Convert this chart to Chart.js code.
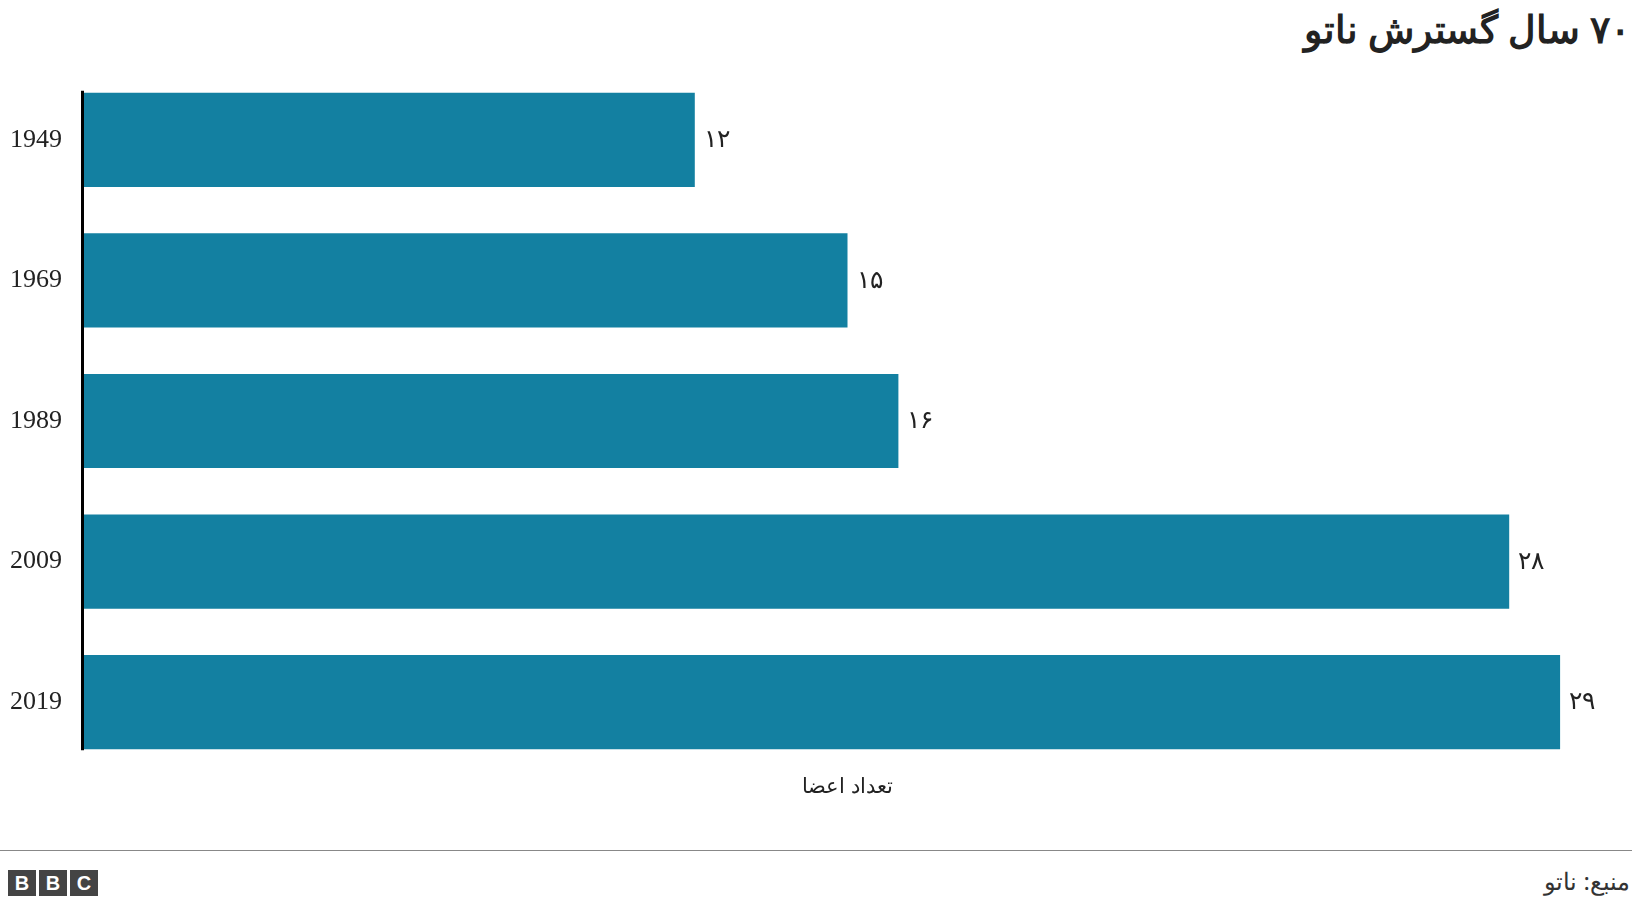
<!DOCTYPE html>
<html><head><meta charset="utf-8">
<script src="https://cdn.jsdelivr.net/npm/chart.js@4/dist/chart.umd.min.js"></script>
<style>
body{margin:0;width:1632px;height:908px;background:#fff;position:relative;overflow:hidden;font-family:"Noto Sans",sans-serif}
#title{position:absolute;right:2px;top:2px;font-size:38px;font-weight:bold;color:#222;direction:rtl}
#wrap{position:absolute;left:0;top:32px;width:1632px;height:778px}
#line{position:absolute;left:0;right:0;top:850px;border-top:1px solid #888}
#src{position:absolute;right:2px;top:864px;font-size:24px;color:#333;direction:rtl}
#bbc{position:absolute;left:8px;top:870px;display:flex;gap:3px}
#bbc span{background:#444;color:#fff;font:bold 20px "Liberation Sans";width:28px;height:26px;display:flex;align-items:center;justify-content:center}
</style></head><body>
<div id="title">۷۰ سال گسترش ناتو</div>
<div id="wrap"><canvas id="c"></canvas></div>
<div id="line"></div>
<div id="bbc"><span>B</span><span>B</span><span>C</span></div>
<div id="src">منبع: ناتو</div>
<script>
const categories=["1949","1969","1989","2009","2019"];
const members=[12,15,16,28,29];
const axisTitle="تعداد اعضا";
const fa=n=>String(n).replace(/\d/g,d=>"۰۱۲۳۴۵۶۷۸۹"[d]);
const labelPlugin={id:"lbl",afterDatasetsDraw(ch){const ctx=ch.ctx;const m=ch.getDatasetMeta(0);ctx.save();ctx.font="25px 'Noto Sans'";ctx.fillStyle="#222";ctx.textBaseline="middle";ctx.textAlign="left";
m.data.forEach((b,i)=>ctx.fillText(fa(members[i]),b.x+9,b.y));
const f=m.data[0],l=m.data[m.data.length-1];const x=ch.scales.x.getPixelForValue(0)-1.5;
ctx.strokeStyle="#000";ctx.lineWidth=3;ctx.beginPath();ctx.moveTo(x,f.y-f.height/2-2);ctx.lineTo(x,l.y+l.height/2+1);ctx.stroke();ctx.restore();}};
new Chart(document.getElementById("c"),{type:"bar",data:{labels:categories,datasets:[{data:members,backgroundColor:"#1380a1",barPercentage:0.67,categoryPercentage:1}]},
options:{indexAxis:"y",responsive:true,maintainAspectRatio:false,animation:false,
layout:{padding:{top:0,right:21,left:0,bottom:0}},
plugins:{legend:{display:false},tooltip:{enabled:false}},
scales:{x:{min:0,max:30,grid:{display:false,drawTicks:false},border:{display:false},ticks:{display:false},
title:{display:true,text:axisTitle,font:{size:21,family:"Noto Sans"},color:"#222",padding:{top:2,bottom:0}}},
y:{afterFit(s){s.width=84;},grid:{display:false,drawTicks:false},border:{display:false},ticks:{font:{size:26,family:"Liberation Serif"},color:"#222",padding:22}}}},
plugins:[labelPlugin]});
</script></body></html>
